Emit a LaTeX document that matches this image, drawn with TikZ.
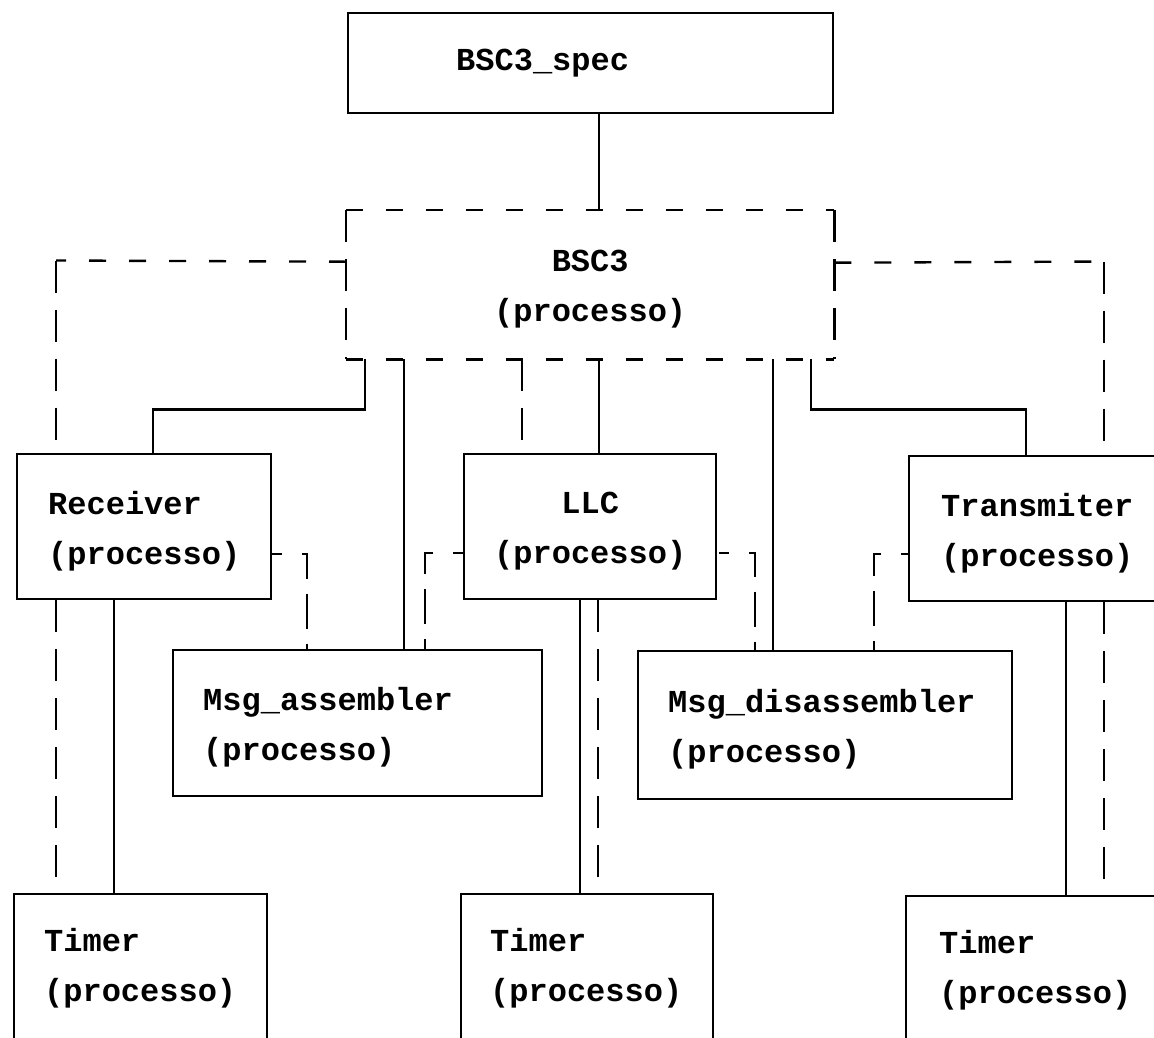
\documentclass[tikz,border=0pt]{standalone}
\usepackage{fontspec}
\setmonofont{Liberation Mono}
\begin{document}
\begin{tikzpicture}[x=1pt,y=-1pt,
  box/.style={draw, line width=2.4pt, rectangle, anchor=north west, inner ysep=0pt,
    font=\ttfamily\bfseries\fontsize{32}{50}\selectfont},
  twoline/.style={text depth=48pt},
  plainbox/.style={box, draw=none},
  conn/.style={line width=2.4pt},
  hdash/.style={line width=2.4pt, dash pattern=on 17pt off 23pt},
  vdash/.style={line width=2.4pt, dash pattern=on 32pt off 17pt},
  sdash/.style={line width=2.4pt, dash pattern=on 10pt off 20pt on 29pt off 15pt on 35pt off 15pt on 40pt off 10pt}]
\useasboundingbox (0,0) rectangle (1154,1037);
\clip (0,0) rectangle (1154,1037);
% nodes
\node[box, minimum height=100pt, inner xsep=108pt, text width=269pt, align=left] (spec) at (347,12) {BSC3\_spec};
\node[plainbox, twoline, minimum height=147pt, inner xsep=30pt, text width=426pt, align=center] (bsc3) at (346,210) {BSC3\\(processo)};
\node[box, twoline, minimum height=145pt, inner xsep=31pt, text width=192pt, align=left] (rec) at (16,453) {Receiver\\(processo)};
\node[box, twoline, minimum height=145pt, inner xsep=30pt, text width=192pt, align=center] (llc) at (463,453) {LLC\\(processo)};
\node[box, twoline, minimum height=145pt, inner xsep=32pt, text width=192pt, align=left] (tra) at (908,455) {Transmiter\\(processo)};
\node[box, twoline, minimum height=146pt, inner xsep=30pt, text width=309pt, align=left] (asm) at (172,649) {Msg\_assembler\\(processo)};
\node[box, twoline, minimum height=148pt, inner xsep=30pt, text width=314pt, align=left] (dis) at (637,650) {Msg\_disassembler\\(processo)};
\node[box, minimum height=149pt, inner xsep=30pt, text width=193pt, align=left] (t1) at (13,893) {Timer\\(processo)};
\node[box, minimum height=149pt, inner xsep=29pt, text width=194pt, align=left] (t2) at (460,893) {Timer\\(processo)};
\node[box, minimum height=149pt, inner xsep=33pt, text width=187pt, align=left] (t3) at (905,895) {Timer\\(processo)};
% dashed border of BSC3
\draw[hdash] (bsc3.north west) -- (bsc3.north east);
\draw[hdash] (bsc3.south west) -- (bsc3.south east);
\draw[vdash] (bsc3.north west) -- (bsc3.south west);
\draw[vdash] (bsc3.north east) -- (bsc3.south east);
% corner points of the long dashed connectors
\coordinate (cl) at (56,260.5);
\coordinate (cr) at (1104,261.5);
% connectors
\draw[conn] ([xshift=252pt]spec.south west) -- ([xshift=253pt]bsc3.north west);
\draw[hdash] ([yshift=23pt]bsc3.west) -- (cl);
\draw[vdash] (cl) -- ([xshift=40pt]rec.north west);
\draw[hdash] ([yshift=22pt]bsc3.east) -- (cr);
\draw[vdash] (cr) -- ([xshift=196pt]tra.north west);
\draw[conn] ([xshift=19pt]bsc3.south west) -- ++(0,50) -| ([xshift=137pt]rec.north west);
\draw[conn] ([xshift=58pt]bsc3.south west) -- ([xshift=232pt]asm.north west);
\draw[vdash] ([xshift=176pt]bsc3.south west) -- ([xshift=59pt]llc.north west);
\draw[conn] ([xshift=253pt]bsc3.south west) -- ([xshift=136pt]llc.north west);
\draw[conn] ([xshift=427pt]bsc3.south west) -- ([xshift=136pt]dis.north west);
\draw[conn] ([xshift=465pt]bsc3.south west) -- ++(0,50) -| ([xshift=118pt]tra.north west);
\draw[sdash] ([yshift=-27.5pt]rec.east) -| ([xshift=135pt]asm.north west);
\draw[sdash] ([yshift=-26.5pt]llc.west) -| ([xshift=253pt]asm.north west);
\draw[sdash, dash phase=-2pt] ([yshift=-26.5pt]llc.east) -| ([xshift=118pt]dis.north west);
\draw[sdash, dash phase=3pt] ([yshift=-25.5pt]tra.west) -| ([xshift=237pt]dis.north west);
\draw[vdash] ([xshift=40pt]rec.south west) -- ([xshift=43pt]t1.north west);
\draw[conn] ([xshift=98pt]rec.south west) -- ([xshift=101pt]t1.north west);
\draw[conn] ([xshift=117pt]llc.south west) -- ([xshift=120pt]t2.north west);
\draw[vdash] ([xshift=135pt]llc.south west) -- ([xshift=138pt]t2.north west);
\draw[conn] ([xshift=158pt]tra.south west) -- ([xshift=161pt]t3.north west);
\draw[vdash] ([xshift=196pt]tra.south west) -- ([xshift=199pt]t3.north west);
\end{tikzpicture}
\end{document}
